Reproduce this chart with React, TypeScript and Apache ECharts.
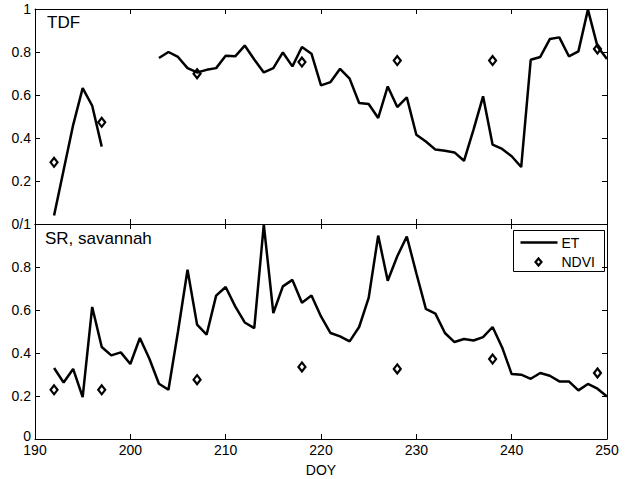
import React, { useEffect, useRef } from "react";
import * as echarts from "echarts";

const days = [192, 193, 194, 195, 196, 197, 198, 199, 200, 201, 202, 203, 204, 205, 206, 207, 208, 209, 210, 211, 212, 213, 214, 215, 216, 217, 218, 219, 220, 221, 222, 223, 224, 225, 226, 227, 228, 229, 230, 231, 232, 233, 234, 235, 236, 237, 238, 239, 240, 241, 242, 243, 244, 245, 246, 247, 248, 249, 250];

const topET: (number | null)[] = [0.04, 0.25, 0.46, 0.632, 0.55, 0.36, null, null, null, null, null, 0.772, 0.8, 0.777, 0.725, 0.705, 0.717, 0.725, 0.783, 0.78, 0.83, 0.765, 0.705, 0.725, 0.798, 0.733, 0.823, 0.792, 0.645, 0.66, 0.722, 0.676, 0.563, 0.558, 0.493, 0.64, 0.544, 0.589, 0.415, 0.384, 0.346, 0.341, 0.333, 0.294, 0.439, 0.594, 0.369, 0.349, 0.315, 0.265, 0.764, 0.777, 0.86, 0.868, 0.78, 0.803, 0.997, 0.826, 0.767];

const bottomET: number[] = [0.33, 0.263, 0.326, 0.195, 0.614, 0.428, 0.389, 0.403, 0.349, 0.47, 0.373, 0.257, 0.229, 0.5, 0.787, 0.532, 0.485, 0.667, 0.707, 0.617, 0.542, 0.516, 0.997, 0.586, 0.71, 0.74, 0.634, 0.667, 0.57, 0.493, 0.477, 0.454, 0.521, 0.656, 0.946, 0.736, 0.85, 0.942, 0.771, 0.605, 0.583, 0.493, 0.451, 0.465, 0.458, 0.474, 0.521, 0.426, 0.302, 0.299, 0.28, 0.307, 0.294, 0.268, 0.268, 0.226, 0.256, 0.234, 0.198];

const ndviDays = [192, 197, 207, 218, 228, 238, 249];
const topNDVI = [0.287, 0.473, 0.699, 0.753, 0.76, 0.76, 0.814];
const bottomNDVI = [0.229, 0.229, 0.276, 0.335, 0.326, 0.372, 0.307];

const panelTitles = ["TDF", "SR, savannah"];
const xName = "DOY";

const FONT = "'Liberation Sans', Arial, sans-serif";

export default function App() {
  const ref = useRef<HTMLDivElement>(null);
  useEffect(() => {
    if (!ref.current) return;
    const chart = echarts.init(ref.current, undefined, { renderer: "svg" });
    const L = 35, W = 572, T1 = 9, H = 215, T2 = 224;

    const baseX = (gridIndex: number, position: string, showLabel: boolean, name?: string) => ({
      type: "value",
      gridIndex,
      position,
      min: 190,
      max: 250,
      interval: 10,
      name: name,
      nameLocation: "middle",
      nameGap: 24,
      nameTextStyle: { color: "#000", fontSize: 14, fontFamily: FONT },
      axisLine: { show: true, onZero: false, lineStyle: { color: "#000", width: 1 } },
      axisTick: { show: true, inside: true, length: 5, lineStyle: { color: "#000" } },
      axisLabel: { show: showLabel, color: "#000", fontSize: 14, fontFamily: FONT, margin: 4 },
      splitLine: { show: false },
    });
    const baseY = (gridIndex: number, position: string, formatter: ((v: number) => string) | null) => ({
      type: "value",
      gridIndex,
      position,
      min: 0,
      max: 1,
      interval: 0.2,
      axisLine: { show: true, onZero: false, lineStyle: { color: "#000", width: 1 } },
      axisTick: { show: true, inside: true, length: 5, lineStyle: { color: "#000" } },
      axisLabel: formatter
        ? {
            show: true,
            color: "#000",
            fontSize: 14,
            fontFamily: FONT,
            margin: 4,
            formatter,
            rich: { z: { fontSize: 14, fontFamily: FONT, color: "#000", padding: [0, 0, 7, 0] } },
          }
        : { show: false },
      splitLine: { show: false },
    });

    const fmt = (v: number) => String(Math.round(v * 10) / 10);
    const topFmt = (v: number) => (v === 0 ? "" : fmt(v));
    const botFmt = (v: number) => (v === 1 ? "0/1" : v === 0 ? "{z|0}" : fmt(v));

    const lineStyle = { color: "#000", width: 2.5 };
    const ndviStyle = { color: "#fff", borderColor: "#000", borderWidth: 2.2, opacity: 1 };

    const legX = 513, legY = 230;

    chart.setOption({
      animation: false,
      backgroundColor: "#fff",
      textStyle: { fontFamily: FONT },
      grid: [
        { left: L, top: T1, width: W, height: H },
        { left: L, top: T2, width: W, height: H },
      ],
      xAxis: [
        baseX(0, "bottom", false),
        baseX(0, "top", false),
        baseX(1, "bottom", true, xName),
        baseX(1, "top", false),
      ],
      yAxis: [
        baseY(0, "left", topFmt),
        baseY(0, "right", null),
        baseY(1, "left", botFmt),
        baseY(1, "right", null),
      ],
      series: [
        {
          name: "ET",
          type: "line",
          xAxisIndex: 0,
          yAxisIndex: 0,
          data: days.map((d, i) => [d, topET[i] === null ? null : topET[i]]),
          symbol: "none",
          connectNulls: false,
          lineStyle,
          clip: false,
        },
        {
          name: "NDVI",
          type: "scatter",
          xAxisIndex: 0,
          yAxisIndex: 0,
          data: ndviDays.map((d, i) => [d, topNDVI[i]]),
          symbol: "diamond",
          symbolSize: [7, 9],
          itemStyle: ndviStyle,
        },
        {
          name: "ET",
          type: "line",
          xAxisIndex: 2,
          yAxisIndex: 2,
          data: days.map((d, i) => [d, bottomET[i]]),
          symbol: "none",
          lineStyle,
          clip: false,
        },
        {
          name: "NDVI",
          type: "scatter",
          xAxisIndex: 2,
          yAxisIndex: 2,
          data: ndviDays.map((d, i) => [d, bottomNDVI[i]]),
          symbol: "diamond",
          symbolSize: [7, 9],
          itemStyle: ndviStyle,
        },
      ],
      graphic: [
        { type: "text", left: 47, top: 14, style: { text: panelTitles[0], fontSize: 17, fontFamily: FONT, fill: "#000" } },
        { type: "text", left: 45, top: 230, style: { text: panelTitles[1], fontSize: 17, fontFamily: FONT, fill: "#000" } },
        {
          type: "group",
          left: legX,
          top: legY,
          children: [
            { type: "rect", shape: { x: 0, y: 0, width: 91, height: 41 }, style: { fill: "#fff", stroke: "#000", lineWidth: 1 } },
            { type: "line", shape: { x1: 7, y1: 12, x2: 44, y2: 12 }, style: { stroke: "#000", lineWidth: 2.5 } },
            { type: "text", x: 48, y: 12, style: { text: "ET", fontSize: 14, fontFamily: FONT, fill: "#000", verticalAlign: "middle" } },
            { type: "polygon", shape: { points: [[25, 28], [28, 31.5], [25, 35], [22, 31.5]] }, style: { fill: "#fff", stroke: "#000", lineWidth: 2.2 } },
            { type: "text", x: 48, y: 31.5, style: { text: "NDVI", fontSize: 14, fontFamily: FONT, fill: "#000", verticalAlign: "middle" } },
          ],
        },
      ],
    });
    return () => chart.dispose();
  }, []);
  return <div ref={ref} style={{ position: "fixed", left: 0, top: 0, width: 625, height: 479, background: "#fff" }} />;
}
